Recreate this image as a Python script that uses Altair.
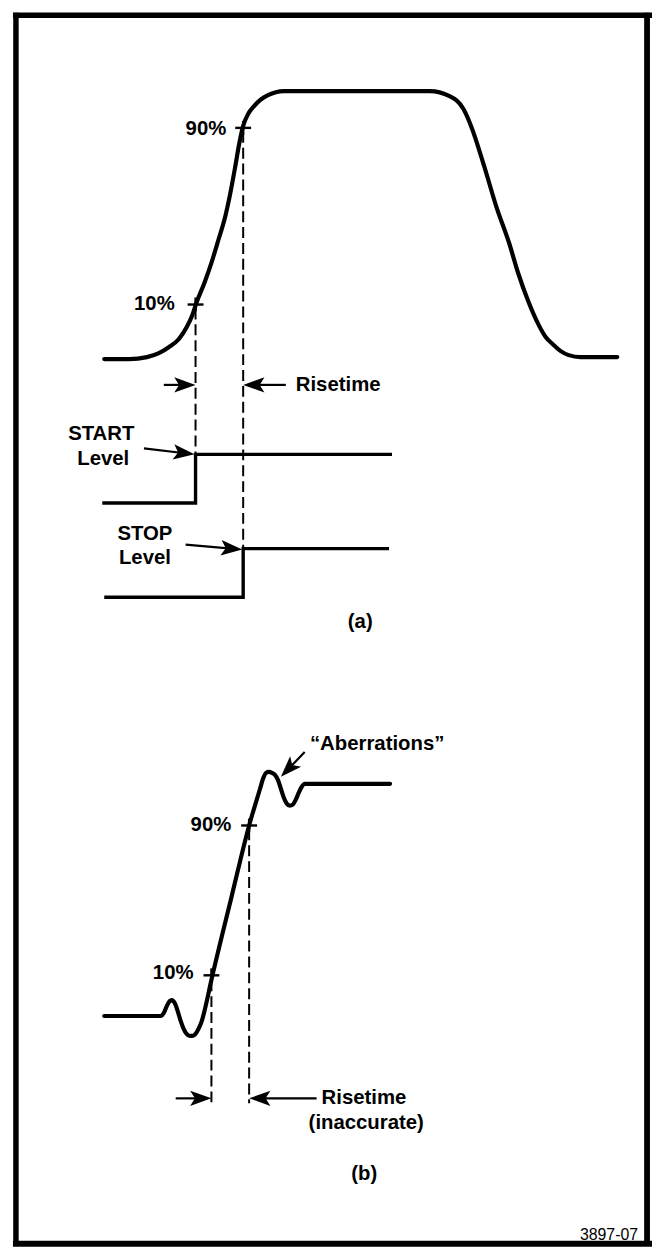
import altair as alt
import numpy as np
import pandas as pd

# ---------------- diagram coordinates (x right, y down) ----------------
# Panel (a): pulse
pulse_a_x = [105, 130, 148, 160, 170, 180, 188, 194, 198, 206, 213, 220, 227, 232, 237, 241, 245, 250,
             256, 262, 270, 278, 286, 433, 453, 467, 475, 488, 500, 513, 522, 532, 543, 550, 557, 565,
             573, 585, 622]
pulse_a_y = [357, 357, 355, 351, 345, 337, 325, 312, 300, 280, 260, 237, 213, 190, 163, 140, 122, 110,
             102, 96, 91, 88, 87, 87, 92, 105, 123, 163, 203, 240, 270, 298, 323, 335, 342, 349,
             353, 355, 355]

# Panel (a): START / STOP level steps
start_x = [103, 197, 197, 395]
start_y = [502, 502, 453, 453]
stop_x = [105, 245, 245, 392]
stop_y = [597, 597, 548, 548]

# Panel (b): step with aberrations
pulse_b_x = [105, 162, 165, 168, 171, 173, 176, 179, 182, 185, 188, 191, 194, 197, 200, 203, 206, 209,
             212, 215, 233, 251, 262, 265, 268, 271, 274, 277, 280, 283, 286, 289, 292, 295, 298, 301,
             304, 307, 313, 393]
pulse_b_y = [1019, 1019, 1016, 1009, 1004, 1003, 1006, 1014, 1024, 1032, 1037, 1039, 1039, 1037, 1032,
             1025, 1014, 1001, 987, 974, 900, 827, 790, 780, 774, 773, 774, 776, 781, 790, 799, 805,
             807, 806, 801, 794, 788, 785, 785, 785]

# 10% / 90% level marks (centres) and the dashed guides dropping from them
mark_cx = [197, 245, 213, 251]
mark_cy = [302, 124, 978, 827]
guide_x = [197, 245, 213, 251]
guide_top = [306, 128, 983, 831]
guide_bottom = [453, 548, 1107, 1107]

# Arrows: tail -> tip
arrow_tail_x = [165, 288, 145, 187, 307, 177, 319]
arrow_tail_y = [383, 383, 447, 544, 753, 1102, 1102]
arrow_tip_x = [197, 245, 196, 244, 283, 213, 251]
arrow_tip_y = [383, 383, 453, 549, 778, 1102, 1102]

# Labels
right_labels = ["90%", "10%", "90%", "10%"]
right_x = [228, 176, 233, 195]
right_y = [125, 302, 827, 976]

left_labels = ["Risetime", "Risetime"]
left_x = [298, 324]
left_y = [383, 1102]

center_labels = ["START", "Level", "STOP", "Level", "(a)", "\u201cAberrations\u201d", "(inaccurate)", "(b)"]
center_x = [102, 104, 146, 146, 363, 380, 369, 367]
center_y = [433, 458, 533, 557, 622, 745, 1127, 1178]

footer_label = ["3897-07"]
footer_x = [643]
footer_y = [1240]

# Frame of the figure
frame_x = [16, 13, 652, 13]
frame_x2 = [16, 657, 652, 657]
frame_y = [8, 10.5, 8, 1248.5]
frame_y2 = [1250, 10.5, 1250, 1248.5]
frame_w = ["left", "top", "right", "bottom"]

# ---------------- build tables ----------------
def path_df(name, xs, ys):
    return pd.DataFrame({"series": name, "i": range(len(xs)), "x": xs, "y": ys})

curves = pd.concat([path_df("a", pulse_a_x, pulse_a_y), path_df("b", pulse_b_x, pulse_b_y)])
steps = pd.concat([path_df("start", start_x, start_y), path_df("stop", stop_x, stop_y)])

TICK = 8
marks_h = pd.DataFrame({"x": np.array(mark_cx) - TICK, "x2": np.array(mark_cx) + TICK, "y": mark_cy})
marks_v = pd.DataFrame({"x": mark_cx, "y": np.array(mark_cy) - 7, "y2": np.array(mark_cy) + 7})
guides = pd.DataFrame({"x": guide_x, "y": guide_top, "y2": guide_bottom})

tx, ty = np.array(arrow_tail_x, float), np.array(arrow_tail_y, float)
px, py = np.array(arrow_tip_x, float), np.array(arrow_tip_y, float)
dx, dy = px - tx, py - ty
L = np.hypot(dx, dy)
HEAD = 14
shafts = pd.DataFrame({"x": tx, "y": ty, "x2": px - dx / L * HEAD, "y2": py - dy / L * HEAD})
heads = pd.DataFrame({"x": px, "y": py, "angle": np.mod(np.degrees(np.arctan2(dx, -dy)), 360)})

frame = pd.DataFrame({"side": frame_w, "x": frame_x, "x2": frame_x2, "y": frame_y, "y2": frame_y2})

W, H = 650, 1242
XS = alt.Scale(domain=[8, 8 + W], nice=False, zero=False)
YS = alt.Scale(domain=[8, 8 + H], nice=False, zero=False, reverse=True)


def X(f="x"):
    return alt.X(f"{f}:Q", scale=XS, axis=None)


def Y(f="y"):
    return alt.Y(f"{f}:Q", scale=YS, axis=None)


FONT = "Liberation Sans"
FS = 20.5

curve_layer = alt.Chart(curves).mark_line(
    interpolate="monotone", color="black", strokeWidth=4.2, strokeCap="round", strokeJoin="round"
).encode(x=X(), y=Y(), detail="series:N", order="i:Q")

step_layer = alt.Chart(steps).mark_line(
    color="black", strokeWidth=3.4, strokeJoin="miter"
).encode(x=X(), y=Y(), detail="series:N", order="i:Q")

guide_layer = alt.Chart(guides).mark_rule(
    color="black", strokeWidth=2, strokeDash=[11, 5]
).encode(x=X(), y=Y(), y2="y2:Q")

mark_h_layer = alt.Chart(marks_h).mark_rule(color="black", strokeWidth=2.4).encode(
    x=X(), x2="x2:Q", y=Y())
mark_v_layer = alt.Chart(marks_v).mark_rule(color="black", strokeWidth=2.4).encode(
    x=X(), y=Y(), y2="y2:Q")

shaft_layer = alt.Chart(shafts).mark_rule(color="black", strokeWidth=2.2).encode(
    x=X(), y=Y(), x2="x2:Q", y2="y2:Q")

head_layer = alt.Chart(heads).mark_point(
    shape="M0,0L0.72,2L0,1.55L-0.72,2Z", filled=True, color="black", opacity=1, size=460
).encode(x=X(), y=Y(), angle=alt.Angle("angle:Q", scale=None))

frame_layer = alt.Chart(frame).mark_rule(color="black").encode(
    x=X(), x2="x2:Q", y=Y(), y2="y2:Q",
    strokeWidth=alt.StrokeWidth("side:N", scale=alt.Scale(domain=frame_w, range=[5.5, 6, 7, 2.5]), legend=None),
)

right_text = alt.Chart(pd.DataFrame({"t": right_labels, "x": right_x, "y": right_y})).mark_text(
    align="right", baseline="middle", font=FONT, fontWeight="bold", fontSize=FS, color="black"
).encode(x=X(), y=Y(), text="t:N")

left_text = alt.Chart(pd.DataFrame({"t": left_labels, "x": left_x, "y": left_y})).mark_text(
    align="left", baseline="middle", font=FONT, fontWeight="bold", fontSize=FS, color="black"
).encode(x=X(), y=Y(), text="t:N")

center_text = alt.Chart(pd.DataFrame({"t": center_labels, "x": center_x, "y": center_y})).mark_text(
    align="center", baseline="middle", font=FONT, fontWeight="bold", fontSize=FS, color="black"
).encode(x=X(), y=Y(), text="t:N")

footer_text = alt.Chart(pd.DataFrame({"t": footer_label, "x": footer_x, "y": footer_y})).mark_text(
    align="right", baseline="middle", font=FONT, fontSize=16, color="black"
).encode(x=X(), y=Y(), text="t:N")

chart = alt.layer(
    frame_layer, guide_layer, curve_layer, step_layer, mark_h_layer, mark_v_layer,
    shaft_layer, head_layer, right_text, left_text, center_text, footer_text
).properties(
    width=W, height=H, padding=0, autosize=alt.AutoSizeParams(type="none"), background="white"
).configure_view(stroke=None)

chart.save("out.html", embed_options={"renderer": "svg", "actions": False})
